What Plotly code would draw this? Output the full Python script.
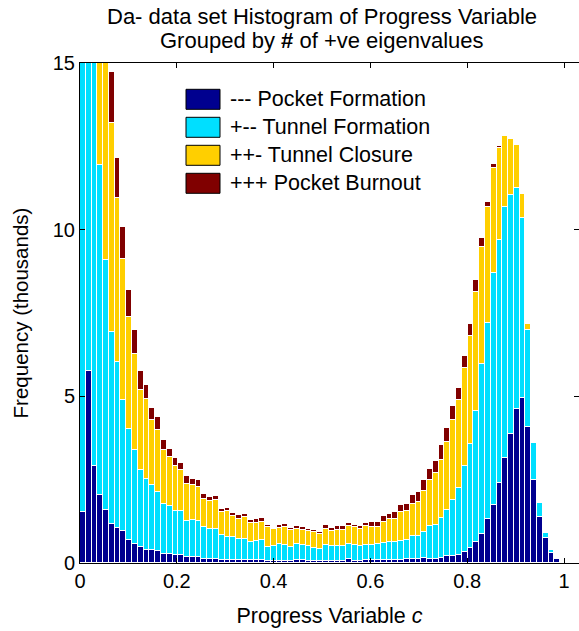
import plotly.graph_objects as go

# Histogram bins (84 bins over the progress variable, width ~0.01195)
n_bins = 84
bin_width = 1.004 / n_bins
bin_centers = [(i + 0.5) * bin_width for i in range(n_bins)]

# Counts in thousands per bin, for each group
pocket_formation = [
    1.53, 5.76, 2.91, 2.03, 1.58, 1.16, 1.06, 0.95, 0.68, 0.58,
    0.48, 0.40, 0.40, 0.35, 0.28, 0.28, 0.25, 0.23, 0.17, 0.19,
    0.17, 0.12, 0.13, 0.13, 0.10, 0.09, 0.09, 0.08, 0.08, 0.08,
    0.08, 0.08, 0.07, 0.06, 0.07, 0.06, 0.06, 0.08, 0.10, 0.06,
    0.06, 0.05, 0.07, 0.06, 0.07, 0.07, 0.13, 0.07, 0.07, 0.08,
    0.08, 0.08, 0.08, 0.10, 0.10, 0.10, 0.12, 0.12, 0.12, 0.15,
    0.13, 0.13, 0.15, 0.20, 0.20, 0.23, 0.33, 0.45, 0.63, 0.88,
    1.31, 1.75, 2.40, 3.16, 3.86, 4.61, 4.96, 4.08, 2.50, 1.38,
    0.75, 0.30, 0.13, 0.03,
]
tunnel_formation = [
    20.47, 16.24, 15.09, 9.91, 7.50, 5.77, 4.97, 3.95, 3.35, 2.80,
    2.32, 2.13, 1.93, 1.78, 1.50, 1.42, 1.31, 1.33, 1.09, 1.09,
    1.09, 0.96, 0.88, 0.90, 0.73, 0.69, 0.69, 0.63, 0.63, 0.56,
    0.58, 0.60, 0.42, 0.44, 0.49, 0.47, 0.41, 0.48, 0.43, 0.45,
    0.40, 0.38, 0.48, 0.45, 0.44, 0.44, 0.45, 0.48, 0.43, 0.45,
    0.45, 0.48, 0.52, 0.53, 0.52, 0.55, 0.56, 0.68, 0.68, 0.78,
    0.99, 1.01, 1.19, 1.40, 1.70, 2.03, 2.57, 3.13, 3.93, 5.10,
    5.89, 6.95, 7.28, 7.51, 7.18, 6.63, 5.40, 2.92, 1.10, 0.42,
    0.15, 0.08, 0.01, 0.02,
]
tunnel_closure = [
    1.0, 1.0, 2.0, 5.06, 6.22, 6.26, 4.91, 4.21, 3.35, 2.90,
    2.40, 2.40, 1.95, 1.85, 1.60, 1.48, 1.34, 1.22, 1.10, 1.05,
    1.02, 0.85, 0.85, 0.87, 0.70, 0.77, 0.62, 0.62, 0.66, 0.56,
    0.55, 0.55, 0.59, 0.51, 0.49, 0.54, 0.51, 0.46, 0.47, 0.45,
    0.46, 0.45, 0.48, 0.45, 0.49, 0.47, 0.52, 0.52, 0.53, 0.57,
    0.56, 0.52, 0.63, 0.70, 0.71, 0.87, 0.87, 0.96, 1.03, 1.23,
    1.36, 1.57, 1.76, 2.03, 2.40, 2.64, 2.95, 3.23, 3.57, 3.49,
    3.47, 3.16, 2.76, 2.14, 1.67, 1.30, 0.71, 0.18, 0.03, 0.0,
    0.0, 0.0, 0.0, 0.0,
]
pocket_burnout = [
    0.5, 0.5, 0.5, 0.6, 0.7, 1.55, 1.20, 0.97, 0.80, 0.70,
    0.55, 0.40, 0.38, 0.40, 0.30, 0.25, 0.26, 0.23, 0.25, 0.20,
    0.20, 0.13, 0.12, 0.11, 0.10, 0.10, 0.11, 0.10, 0.11, 0.08,
    0.10, 0.11, 0.06, 0.05, 0.08, 0.10, 0.07, 0.08, 0.08, 0.07,
    0.07, 0.06, 0.10, 0.09, 0.10, 0.12, 0.10, 0.08, 0.08, 0.11,
    0.14, 0.14, 0.18, 0.15, 0.20, 0.23, 0.23, 0.27, 0.30, 0.34,
    0.35, 0.35, 0.43, 0.42, 0.40, 0.36, 0.35, 0.35, 0.35, 0.27,
    0.15, 0.11, 0.07, 0.01, 0.01, 0.0, 0.0, 0.0, 0.0, 0.0,
    0.0, 0.0, 0.0, 0.0,
]

series_names = ["--- Pocket Formation", "+-- Tunnel Formation",
                "++- Tunnel Closure", "+++ Pocket Burnout"]
series_colors = ["#00008F", "#00DFFF", "#FFCF00", "#800000"]
series_values = [pocket_formation, tunnel_formation, tunnel_closure, pocket_burnout]

x_ticks = [0, 0.2, 0.4, 0.6, 0.8, 1]
x_tick_labels = ["0", "0.2", "0.4", "0.6", "0.8", "1"]
y_ticks = [0, 5, 10, 15]
y_tick_labels = ["0", "5", "10", "15"]

FONT = "Liberation Sans, Arial, sans-serif"

fig = go.Figure()
for name, color, vals in zip(series_names, series_colors, series_values):
    fig.add_trace(go.Bar(
        x=bin_centers, y=vals, width=bin_width, name=name,
        marker=dict(color=color, line=dict(color="white", width=1)),
        showlegend=False,
    ))

# legend drawn as swatches + labels (paper coordinates)
W, H = 579, 631
ml, mr, mt, mb = 80, 0, 63, 68
pw, ph = W - ml - mr, H - mt - mb
def px_x(px):
    return (px - ml) / pw
def px_y(py):
    return (H - mb - py) / ph

shapes = []
annotations = []
for i, (name, color) in enumerate(zip(series_names, series_colors)):
    cy = 99.3 + 28 * i
    shapes.append(dict(type="rect", xref="paper", yref="paper",
                       x0=px_x(186), x1=px_x(220), y0=px_y(cy + 10), y1=px_y(cy - 10),
                       fillcolor=color, line=dict(color="black", width=1)))
    annotations.append(dict(xref="paper", yref="paper", x=px_x(228), y=px_y(cy),
                            xanchor="left", yanchor="middle", text=name, showarrow=False,
                            font=dict(family=FONT, size=21.5, color="black")))

annotations.append(dict(xref="paper", yref="paper", x=px_x(322), y=px_y(17),
                        xanchor="center", yanchor="middle", showarrow=False,
                        text="Da- data set Histogram of Progress Variable",
                        font=dict(family=FONT, size=22, color="black")))
annotations.append(dict(xref="paper", yref="paper", x=px_x(322), y=px_y(41),
                        xanchor="center", yanchor="middle", showarrow=False,
                        text="Grouped by <b>#</b> of +ve eigenvalues",
                        font=dict(family=FONT, size=22, color="black")))

fig.update_layout(
    width=W, height=H,
    margin=dict(l=ml, r=mr, t=mt, b=mb, pad=0),
    paper_bgcolor="white", plot_bgcolor="white",
    barmode="stack", bargap=0,
    font=dict(family=FONT, size=20, color="black"),
    shapes=shapes, annotations=annotations,
    xaxis=dict(range=[0, 1.031], tickvals=x_ticks, ticktext=x_tick_labels,
               ticks="inside", ticklen=5, tickcolor="black", showline=True,
               linecolor="black", linewidth=1, mirror="ticks", showgrid=False,
               zeroline=False, tickfont=dict(size=20),
               title=dict(text="Progress Variable <i>c</i>", font=dict(size=21.5), standoff=16)),
    yaxis=dict(range=[0, 15], tickvals=y_ticks, ticktext=y_tick_labels,
               ticks="inside", ticklen=5, tickcolor="black", showline=True,
               linecolor="black", linewidth=1, mirror="ticks", showgrid=False,
               zeroline=False, tickfont=dict(size=20),
               title=dict(text="Frequency (thousands)", font=dict(size=20.5), standoff=18)),
)

fig.write_html("out.html")
